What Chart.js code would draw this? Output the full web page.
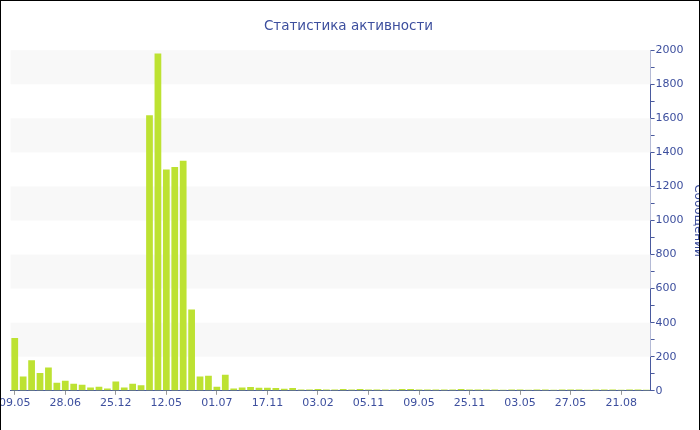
<!DOCTYPE html>
<html>
<head>
<meta charset="utf-8">
<script src="https://cdn.jsdelivr.net/npm/chart.js@4.4.0/dist/chart.umd.min.js"></script>
<style>
  body { margin: 0; background: #fff; }
  .wrap { position: relative; width: 700px; height: 430px; overflow: hidden; }
  /* холст чуть шире окна: первая подпись обрезается слева, как в оригинале */
  .inner { position: absolute; left: -3px; top: 0; width: 703px; height: 430px; }
  .frame { position: absolute; left: 0; top: 0; width: 698px; height: 440px; border: 1px solid #000; pointer-events: none; }
</style>
</head>
<body>
<div class="wrap">
  <div class="inner"><canvas id="activity-chart"></canvas></div>
  <div class="frame"></div>
</div>
<script>
// подписи оси X (каждый 6-й столбец)
var tickLabels = ['09.05', '28.06', '25.12', '12.05', '01.07', '17.11', '03.02',
  '05.11', '09.05', '25.11', '03.05', '27.05', '21.08'];

// количество сообщений по периодам
var messages = [
  310, 84, 180, 104, 137, 47, 59, 41, 35, 20, 24, 14, 55, 20, 41, 33,
  1618, 1981, 1300, 1314, 1351, 477, 84, 88, 24, 94, 14, 20, 22, 18, 18, 16,
  12, 16, 7, 7, 10, 7, 7, 10, 7, 10, 7, 7, 7, 7, 10, 11,
  7, 7, 7, 7, 7, 10, 7, 7, 7, 7, 6, 7, 7, 6, 7, 7,
  6, 7, 7, 8, 6, 7, 7, 7, 6, 7, 8, 6
];

var tickEvery = 6;
var categories = messages.map(function (v, i) {
  return i % tickEvery === 0 ? tickLabels[i / tickEvery] : '';
});

var textColor = '#3d4f9e';
var axisColor = '#4a5a9e';
var fontFamily = '"DejaVu Sans", Verdana, sans-serif';

// чередующиеся полосы фона
var bands = [[200, 400], [600, 800], [1000, 1200], [1400, 1600], [1800, 2000]];

var bandsPlugin = {
  id: 'bands',
  beforeDatasetsDraw: function (chart) {
    var ctx = chart.ctx;
    var area = chart.chartArea;
    var y = chart.scales.y;
    ctx.save();
    ctx.fillStyle = '#f8f8f8';
    bands.forEach(function (b) {
      var top = y.getPixelForValue(b[1]);
      var bottom = y.getPixelForValue(b[0]);
      ctx.fillRect(area.left, top, area.right - area.left, bottom - top);
    });
    ctx.restore();
  }
};

new Chart(document.getElementById('activity-chart'), {
  type: 'bar',
  data: {
    labels: categories,
    datasets: [{
      label: 'Сообщений',
      data: messages,
      backgroundColor: '#bde232',
      borderWidth: 0,
      barPercentage: 1,
      categoryPercentage: 0.8
    }]
  },
  plugins: [bandsPlugin],
  options: {
    responsive: true,
    maintainAspectRatio: false,
    animation: false,
    layout: { padding: { left: 0, right: 0, top: 0, bottom: 18 } },
    plugins: {
      legend: { display: false },
      tooltip: { enabled: false },
      title: {
        display: true,
        text: 'Статистика активности',
        color: textColor,
        font: { family: fontFamily, size: 13.5, weight: 'normal' },
        padding: { top: 18, bottom: 16 }
      }
    },
    scales: {
      x: {
        offset: true,
        border: { color: axisColor, width: 1 },
        grid: {
          offset: false,
          drawOnChartArea: false,
          tickLength: 4,
          color: function (c) {
            return c.tick && c.tick.label ? '#999999' : 'rgba(0,0,0,0)';
          }
        },
        ticks: {
          autoSkip: false,
          maxRotation: 0,
          minRotation: 0,
          padding: 2,
          color: textColor,
          font: { family: fontFamily, size: 11 }
        }
      },
      y: {
        position: 'right',
        min: 0,
        max: 2000,
        border: { color: axisColor, width: 1 },
        grid: {
          drawOnChartArea: false,
          tickLength: 4,
          color: axisColor
        },
        ticks: {
          stepSize: 100,
          padding: 1,
          color: textColor,
          font: { family: fontFamily, size: 11 },
          callback: function (v) { return v % 200 === 0 ? v : ''; }
        },
        title: {
          display: true,
          text: 'Сообщений',
          color: textColor,
          font: { family: fontFamily, size: 12 },
          padding: { top: -5, bottom: 6 }
        }
      }
    }
  }
});
</script>
</body>
</html>
